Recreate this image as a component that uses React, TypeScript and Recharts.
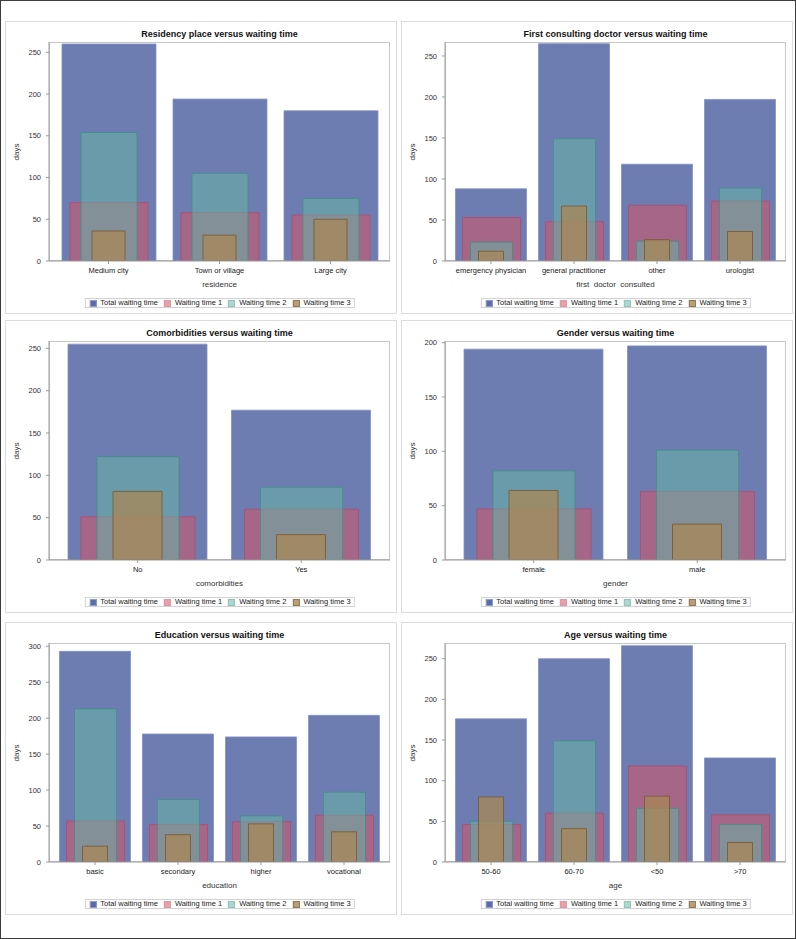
import React from 'react';
import { BarChart, Bar, XAxis, YAxis } from 'recharts';

// legend / series names
const SERIES_NAMES = ['Total waiting time', 'Waiting time 1', 'Waiting time 2', 'Waiting time 3'];

// residence
const residenceCats = ['Medium city', 'Town or village', 'Large city'];
const residenceTotal = [260, 194, 180];
const residenceWait1 = [70, 58, 55];
const residenceWait2 = [154, 105, 75];
const residenceWait3 = [36, 31, 50];

// first doctor consulted
const doctorCats = ['emergency physician', 'general practitioner', 'other', 'urologist'];
const doctorTotal = [88, 265, 118, 197];
const doctorWait1 = [53, 48, 68, 73];
const doctorWait2 = [23, 149, 24, 89];
const doctorWait3 = [12, 67, 26, 36];

// comorbidities
const comorbCats = ['No', 'Yes'];
const comorbTotal = [255, 177];
const comorbWait1 = [51, 60];
const comorbWait2 = [122, 86];
const comorbWait3 = [81, 30];

// gender
const genderCats = ['female', 'male'];
const genderTotal = [194, 197];
const genderWait1 = [47, 63];
const genderWait2 = [82, 101];
const genderWait3 = [64, 33];

// education
const eduCats = ['basic', 'secondary', 'higher', 'vocational'];
const eduTotal = [293, 178, 174, 204];
const eduWait1 = [57, 52, 56, 65];
const eduWait2 = [213, 87, 64, 97];
const eduWait3 = [22, 38, 53, 42];

// age
const ageCats = ['50-60', '60-70', '<50', '>70'];
const ageTotal = [176, 250, 266, 128];
const ageWait1 = [46, 60, 118, 58];
const ageWait2 = [50, 149, 66, 46];
const ageWait3 = [80, 41, 81, 24];

const ticks250 = [0, 50, 100, 150, 200, 250];
const ticks200 = [0, 50, 100, 150, 200];
const ticks300 = [0, 50, 100, 150, 200, 250, 300];

const FILLS = ['#4a5c9e', '#dc505f', '#64b9a5', '#aa8755'];
const OPACITY = [0.8, 0.5, 0.5, 0.75];
const STROKES = ['#8391c6', '#b04c6c', '#3f9088', '#76582f'];
const WIDTHS = [0.85, 0.7, 0.5, 0.3];
const KEYS = ['total', 'w1', 'w2', 'w3'];

const FONT = '"Liberation Sans", Arial, sans-serif';
const AXIS_GRAY = '#9a9a9a';
const PANEL_W = 392;
const PANEL_H = 293;
const PLOT_L = 44;
const PLOT_T = 21;
const PLOT_W = 341;
const PLOT_H = 219;
const Y_W = 30;
const X_H = 30;

interface PanelProps {
  left: number;
  top: number;
  title: string;
  xTitle: string;
  cats: string[];
  total: number[];
  w1: number[];
  w2: number[];
  w3: number[];
  yMax: number;
  yTicks: number[];
}

function Legend() {
  return (
    <div
      style={{
        position: 'absolute',
        left: PLOT_L + PLOT_W / 2,
        top: 277,
        transform: 'translateX(-50%)',
        height: 10,
        boxSizing: 'border-box',
        border: '1px solid #d2d2d2',
        display: 'flex',
        alignItems: 'center',
        padding: '0 3px 0 4px',
        fontSize: 7.5,
        color: '#222',
        whiteSpace: 'nowrap',
        lineHeight: '8px',
      }}
    >
      {SERIES_NAMES.map((name, i) => (
        <div key={name} style={{ display: 'flex', alignItems: 'center', marginRight: i < 3 ? 6 : 0 }}>
          <div
            style={{
              width: 5,
              height: 5,
              marginRight: 4,
              background: FILLS[i],
              opacity: OPACITY[i] + (i === 0 ? 0.1 : 0.05),
              border: `0.5px solid ${STROKES[i]}`,
            }}
          />
          <span>{name}</span>
        </div>
      ))}
    </div>
  );
}

function Panel({ left, top, title, xTitle, cats, total, w1, w2, w3, yMax, yTicks }: PanelProps) {
  const data = cats.map((cat, i) => ({ cat, total: total[i], w1: w1[i], w2: w2[i], w3: w3[i] }));
  const pad = cats.length === 2 ? 7 : cats.length === 3 ? 4 : 4.5;
  const band = (PLOT_W - 2 * pad) / cats.length;

  return (
    <div
      style={{
        position: 'absolute',
        left,
        top,
        width: PANEL_W,
        height: PANEL_H,
        outline: '1px solid #dcdcdc',
        outlineOffset: -1,
        fontFamily: FONT,
      }}
    >
      <div
        style={{
          position: 'absolute',
          left: PLOT_L,
          width: PLOT_W,
          top: 7,
          lineHeight: '12px',
          textAlign: 'center',
          fontWeight: 'bold',
          fontSize: 9,
          color: '#111',
        }}
      >
        {title}
      </div>
      <div
        style={{
          position: 'absolute',
          left: PLOT_L,
          top: PLOT_T,
          width: PLOT_W,
          height: PLOT_H,
          boxSizing: 'border-box',
          border: '1px solid #c6c6c6',
        }}
      />
      <div
        style={{
          position: 'absolute',
          left: 12,
          top: PLOT_T + PLOT_H / 2,
          transform: 'translate(-50%, -50%) rotate(-90deg)',
          fontSize: 8,
          color: '#333',
          lineHeight: '10px',
        }}
      >
        days
      </div>
      <div
        style={{
          position: 'absolute',
          left: PLOT_L,
          width: PLOT_W,
          top: 258,
          lineHeight: '12px',
          textAlign: 'center',
          fontSize: 8,
          color: '#333',
          whiteSpace: 'pre',
        }}
      >
        {xTitle}
      </div>
      <Legend />
      <div style={{ position: 'absolute', left: 0, top: 0 }}>
        <BarChart
          width={PANEL_W}
          height={PANEL_H}
          data={data}
          margin={{
            top: PLOT_T,
            left: PLOT_L - Y_W,
            right: PANEL_W - PLOT_L - PLOT_W,
            bottom: PANEL_H - PLOT_T - PLOT_H - X_H,
          }}
        >
          <XAxis
            xAxisId="total"
            dataKey="cat"
            height={X_H}
            padding={{ left: pad, right: pad }}
            interval={0}
            tickSize={3}
            tickMargin={4}
            axisLine={{ stroke: AXIS_GRAY }}
            tickLine={{ stroke: AXIS_GRAY }}
            tick={{ fontSize: 7.5, fill: '#222', fontFamily: FONT }}
          />
          <XAxis xAxisId="w1" dataKey="cat" hide padding={{ left: pad, right: pad }} />
          <XAxis xAxisId="w2" dataKey="cat" hide padding={{ left: pad, right: pad }} />
          <XAxis xAxisId="w3" dataKey="cat" hide padding={{ left: pad, right: pad }} />
          <YAxis
            width={Y_W}
            domain={[0, yMax]}
            ticks={yTicks}
            allowDataOverflow
            tickSize={3}
            tickMargin={5}
            axisLine={{ stroke: AXIS_GRAY }}
            tickLine={{ stroke: AXIS_GRAY }}
            tick={{ fontSize: 7.5, fill: '#333', fontFamily: FONT }}
          />
          {KEYS.map((k, i) => (
            <Bar
              key={k}
              dataKey={k}
              name={SERIES_NAMES[i]}
              xAxisId={k}
              barSize={Math.round(band * WIDTHS[i])}
              fill={FILLS[i]}
              fillOpacity={OPACITY[i]}
              stroke={STROKES[i]}
              strokeOpacity={0.8}
              strokeWidth={1}
              isAnimationActive={false}
            />
          ))}
        </BarChart>
      </div>
    </div>
  );
}

export default function App() {
  return (
    <div
      style={{
        position: 'absolute',
        left: 0,
        top: 0,
        width: 796,
        height: 939,
        boxSizing: 'border-box',
        border: '1px solid #3c3c3c',
        background: '#fff',
      }}
    >
      <Panel
        left={4}
        top={20}
        title="Residency place versus waiting time"
        xTitle="residence"
        cats={residenceCats}
        total={residenceTotal}
        w1={residenceWait1}
        w2={residenceWait2}
        w3={residenceWait3}
        yMax={262.4}
        yTicks={ticks250}
      />
      <Panel
        left={400}
        top={20}
        title="First consulting doctor versus waiting time"
        xTitle="first  doctor  consulted"
        cats={doctorCats}
        total={doctorTotal}
        w1={doctorWait1}
        w2={doctorWait2}
        w3={doctorWait3}
        yMax={267}
        yTicks={ticks250}
      />
      <Panel
        left={4}
        top={319}
        title="Comorbidities versus waiting time"
        xTitle="comorbidities"
        cats={comorbCats}
        total={comorbTotal}
        w1={comorbWait1}
        w2={comorbWait2}
        w3={comorbWait3}
        yMax={258.7}
        yTicks={ticks250}
      />
      <Panel
        left={400}
        top={319}
        title="Gender versus waiting time"
        xTitle="gender"
        cats={genderCats}
        total={genderTotal}
        w1={genderWait1}
        w2={genderWait2}
        w3={genderWait3}
        yMax={201.5}
        yTicks={ticks200}
      />
      <Panel
        left={4}
        top={621}
        title="Education versus waiting time"
        xTitle="education"
        cats={eduCats}
        total={eduTotal}
        w1={eduWait1}
        w2={eduWait2}
        w3={eduWait3}
        yMax={304.6}
        yTicks={ticks300}
      />
      <Panel
        left={400}
        top={621}
        title="Age versus waiting time"
        xTitle="age"
        cats={ageCats}
        total={ageTotal}
        w1={ageWait1}
        w2={ageWait2}
        w3={ageWait3}
        yMax={269.3}
        yTicks={ticks250}
      />
    </div>
  );
}
